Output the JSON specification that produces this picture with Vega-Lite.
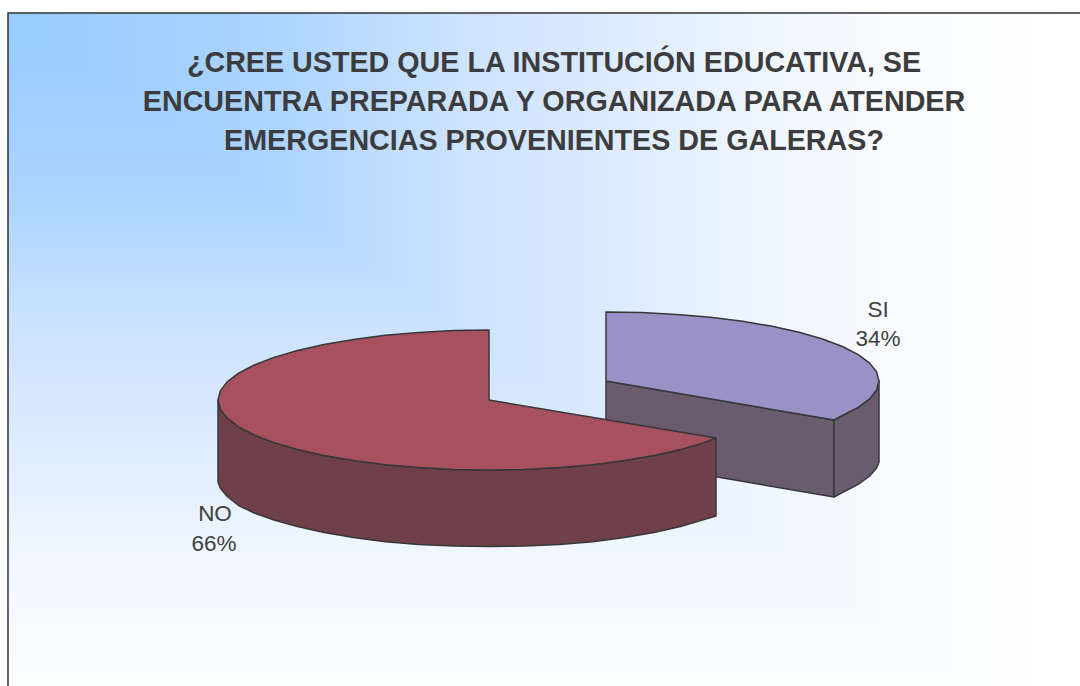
{
"$schema":"https://vega.github.io/schema/vega-lite/v6.json",
"width":1080,"height":686,"padding":0,"autosize":"none","background":"white",
"view":{"stroke":null},
"title":{"text":["¿CREE USTED QUE LA INSTITUCIÓN EDUCATIVA, SE","ENCUENTRA PREPARADA Y ORGANIZADA PARA ATENDER","EMERGENCIAS PROVENIENTES DE GALERAS?"],"anchor":"middle","baseline":"top","dx":14,"offset":-156,"font":"Liberation Sans","fontSize":28.7,"fontWeight":"bold","lineHeight":39,"color":"#3c3c3e"},
"datasets":{
"frame":[{"x":8,"x2":1083,"y":13,"y2":765}],
"wash":[{"i":1,"x":8,"y":13},{"i":2,"x":1083,"y":13},{"i":3,"x":1083,"y":765},{"i":4,"x":8,"y":13}],
"labels":[{"slice":"SI","label":"SI","x":878,"y":310},{"slice":"SI","label":"34%","x":878,"y":339},{"slice":"NO","label":"NO","x":215,"y":514},{"slice":"NO","label":"66%","x":214,"y":544}],
"outline":[
{"part":"SI lateral interior","i":1,"x":606,"y":381},{"part":"SI lateral interior","i":2,"x":834,"y":420},{"part":"SI lateral interior","i":3,"x":834,"y":497},{"part":"SI lateral interior","i":4,"x":606,"y":458},{"part":"SI lateral interior","i":5,"x":606,"y":381},
{"part":"SI lateral exterior","i":1,"x":834,"y":420},{"part":"SI lateral exterior","i":2,"x":842.4,"y":415.5},{"part":"SI lateral exterior","i":3,"x":858.2,"y":407.4},{"part":"SI lateral exterior","i":4,"x":869.7,"y":398.9},{"part":"SI lateral exterior","i":5,"x":876.6,"y":390},{"part":"SI lateral exterior","i":6,"x":879,"y":381},{"part":"SI lateral exterior","i":7,"x":879,"y":462},{"part":"SI lateral exterior","i":8,"x":876.6,"y":468},{"part":"SI lateral exterior","i":9,"x":869.7,"y":476},{"part":"SI lateral exterior","i":10,"x":858.2,"y":484.4},{"part":"SI lateral exterior","i":11,"x":842.4,"y":492.5},{"part":"SI lateral exterior","i":12,"x":834,"y":497},{"part":"SI lateral exterior","i":13,"x":834,"y":420},
{"part":"SI superior","i":1,"x":606,"y":381},{"part":"SI superior","i":2,"x":606,"y":312},{"part":"SI superior","i":3,"x":641.6,"y":312.6},{"part":"SI superior","i":4,"x":676.7,"y":314.4},{"part":"SI superior","i":5,"x":710.5,"y":317.3},{"part":"SI superior","i":6,"x":742.5,"y":321.2},{"part":"SI superior","i":7,"x":772.2,"y":326.3},{"part":"SI superior","i":8,"x":799,"y":332.2},{"part":"SI superior","i":9,"x":822.6,"y":339},{"part":"SI superior","i":10,"x":842.4,"y":346.5},{"part":"SI superior","i":11,"x":858.2,"y":354.6},{"part":"SI superior","i":12,"x":869.7,"y":363.1},{"part":"SI superior","i":13,"x":876.6,"y":372},{"part":"SI superior","i":14,"x":879,"y":381},{"part":"SI superior","i":15,"x":876.6,"y":390},{"part":"SI superior","i":16,"x":869.7,"y":398.9},{"part":"SI superior","i":17,"x":858.2,"y":407.4},{"part":"SI superior","i":18,"x":842.4,"y":415.5},{"part":"SI superior","i":19,"x":834,"y":420},{"part":"SI superior","i":20,"x":606,"y":381},
{"part":"NO lateral","i":1,"x":218,"y":400},{"part":"NO lateral","i":2,"x":220.3,"y":409.1},{"part":"NO lateral","i":3,"x":227.2,"y":418.1},{"part":"NO lateral","i":4,"x":238.6,"y":426.8},{"part":"NO lateral","i":5,"x":254.3,"y":435},{"part":"NO lateral","i":6,"x":274,"y":442.6},{"part":"NO lateral","i":7,"x":297.4,"y":449.5},{"part":"NO lateral","i":8,"x":324,"y":455.5},{"part":"NO lateral","i":9,"x":353.5,"y":460.6},{"part":"NO lateral","i":10,"x":385.3,"y":464.7},{"part":"NO lateral","i":11,"x":418.9,"y":467.6},{"part":"NO lateral","i":12,"x":453.6,"y":469.4},{"part":"NO lateral","i":13,"x":489,"y":470},{"part":"NO lateral","i":14,"x":524.4,"y":469.4},{"part":"NO lateral","i":15,"x":559.1,"y":467.6},{"part":"NO lateral","i":16,"x":592.7,"y":464.7},{"part":"NO lateral","i":17,"x":624.5,"y":460.6},{"part":"NO lateral","i":18,"x":654,"y":455.5},{"part":"NO lateral","i":19,"x":680.6,"y":449.5},{"part":"NO lateral","i":20,"x":704,"y":442.6},{"part":"NO lateral","i":21,"x":716,"y":438},{"part":"NO lateral","i":22,"x":716,"y":516},{"part":"NO lateral","i":23,"x":704,"y":519.6},{"part":"NO lateral","i":24,"x":680.6,"y":526.5},{"part":"NO lateral","i":25,"x":654,"y":532.5},{"part":"NO lateral","i":26,"x":624.5,"y":537.6},{"part":"NO lateral","i":27,"x":592.7,"y":541.7},{"part":"NO lateral","i":28,"x":559.1,"y":544.6},{"part":"NO lateral","i":29,"x":524.4,"y":546},{"part":"NO lateral","i":30,"x":489,"y":546.5},{"part":"NO lateral","i":31,"x":453.6,"y":546},{"part":"NO lateral","i":32,"x":418.9,"y":544.6},{"part":"NO lateral","i":33,"x":385.3,"y":541.7},{"part":"NO lateral","i":34,"x":353.5,"y":537.6},{"part":"NO lateral","i":35,"x":324,"y":532.5},{"part":"NO lateral","i":36,"x":297.4,"y":526.5},{"part":"NO lateral","i":37,"x":274,"y":520},{"part":"NO lateral","i":38,"x":254.3,"y":513},{"part":"NO lateral","i":39,"x":238.6,"y":505.5},{"part":"NO lateral","i":40,"x":227.2,"y":496.5},{"part":"NO lateral","i":41,"x":220.3,"y":488},{"part":"NO lateral","i":42,"x":218,"y":482},{"part":"NO lateral","i":43,"x":218,"y":400},
{"part":"NO superior","i":1,"x":489,"y":400},{"part":"NO superior","i":2,"x":489,"y":330},{"part":"NO superior","i":3,"x":453.6,"y":330.6},{"part":"NO superior","i":4,"x":418.9,"y":332.4},{"part":"NO superior","i":5,"x":385.3,"y":335.3},{"part":"NO superior","i":6,"x":353.5,"y":339.4},{"part":"NO superior","i":7,"x":324,"y":344.5},{"part":"NO superior","i":8,"x":297.4,"y":350.5},{"part":"NO superior","i":9,"x":274,"y":357.4},{"part":"NO superior","i":10,"x":254.3,"y":365},{"part":"NO superior","i":11,"x":238.6,"y":373.2},{"part":"NO superior","i":12,"x":227.2,"y":381.9},{"part":"NO superior","i":13,"x":220.3,"y":390.9},{"part":"NO superior","i":14,"x":218,"y":400},{"part":"NO superior","i":15,"x":220.3,"y":409.1},{"part":"NO superior","i":16,"x":227.2,"y":418.1},{"part":"NO superior","i":17,"x":238.6,"y":426.8},{"part":"NO superior","i":18,"x":254.3,"y":435},{"part":"NO superior","i":19,"x":274,"y":442.6},{"part":"NO superior","i":20,"x":297.4,"y":449.5},{"part":"NO superior","i":21,"x":324,"y":455.5},{"part":"NO superior","i":22,"x":353.5,"y":460.6},{"part":"NO superior","i":23,"x":385.3,"y":464.7},{"part":"NO superior","i":24,"x":418.9,"y":467.6},{"part":"NO superior","i":25,"x":453.6,"y":469.4},{"part":"NO superior","i":26,"x":489,"y":470},{"part":"NO superior","i":27,"x":524.4,"y":469.4},{"part":"NO superior","i":28,"x":559.1,"y":467.6},{"part":"NO superior","i":29,"x":592.7,"y":464.7},{"part":"NO superior","i":30,"x":624.5,"y":460.6},{"part":"NO superior","i":31,"x":654,"y":455.5},{"part":"NO superior","i":32,"x":680.6,"y":449.5},{"part":"NO superior","i":33,"x":704,"y":442.6},{"part":"NO superior","i":34,"x":716,"y":438},{"part":"NO superior","i":35,"x":489,"y":400}
]},
"encoding":{
"x":{"field":"x","type":"quantitative","scale":{"domain":[0,1080]},"axis":null},
"y":{"field":"y","type":"quantitative","scale":{"domain":[686,0]},"axis":null}
},
"layer":[
{"data":{"name":"frame"},
 "mark":{"type":"rect","clip":false,"strokeWidth":0,"fill":{"gradient":"linear","x1":0,"y1":0,"x2":0,"y2":1,"stops":[{"offset":0,"color":"#99CCFF"},{"offset":0.18,"color":"#a5d1ff"},{"offset":0.27,"color":"#b0d6ff"},{"offset":0.41,"color":"#cbe2ff"},{"offset":0.55,"color":"#dbeaff"},{"offset":0.7,"color":"#eef6ff"},{"offset":0.82,"color":"#f9fbff"},{"offset":1,"color":"#ffffff"}]}},
 "encoding":{"x2":{"field":"x2"},"y2":{"field":"y2"}}},
{"data":{"name":"wash"},
 "mark":{"type":"line","clip":false,"strokeWidth":0,"stroke":null,"fill":{"gradient":"linear","x1":0,"y1":0,"x2":1,"y2":0,"stops":[{"offset":0,"color":"#99CCFF"},{"offset":0.18,"color":"#a5d1ff"},{"offset":0.27,"color":"#b0d6ff"},{"offset":0.41,"color":"#cbe2ff"},{"offset":0.55,"color":"#dbeaff"},{"offset":0.7,"color":"#eef6ff"},{"offset":0.82,"color":"#f9fbff"},{"offset":1,"color":"#ffffff"}]}},
 "encoding":{"order":{"field":"i","type":"quantitative"}}},
{"data":{"name":"frame"},
 "mark":{"type":"rect","clip":false,"stroke":"#333333","strokeWidth":1.5,"fillOpacity":0},
 "encoding":{"x2":{"field":"x2"},"y2":{"field":"y2"}}},
{"data":{"name":"outline"},
 "mark":{"type":"line","stroke":"#37373a","strokeWidth":1.5,"strokeJoin":"round","interpolate":"linear"},
 "encoding":{
  "detail":{"field":"part"},
  "order":{"field":"i","type":"quantitative"},
  "fill":{"field":"part","type":"nominal","legend":null,"scale":{"domain":["SI lateral interior","SI lateral exterior","SI superior","NO lateral","NO superior"],"range":["#6a5b6f","#6a5b6f","#9a91c6","#6f4047","#a65060"]}}
 }},
{"data":{"name":"labels"},
 "mark":{"type":"text","font":"Liberation Sans","fontSize":22.5,"color":"#404040","align":"center","baseline":"middle"},
 "encoding":{"text":{"field":"label"}}}
]
}
